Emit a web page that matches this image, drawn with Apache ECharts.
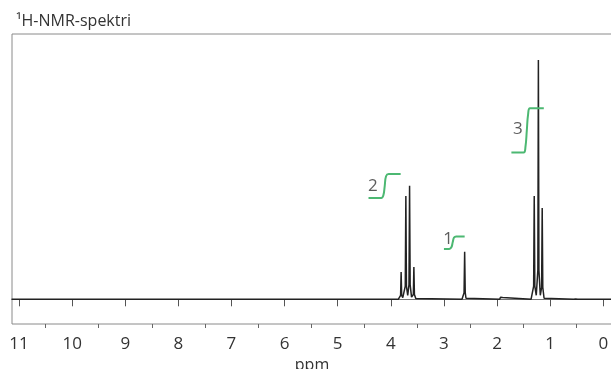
<!DOCTYPE html>
<html>
<head>
<meta charset="utf-8">
<script src="https://cdn.jsdelivr.net/npm/echarts@6/dist/echarts.min.js"></script>
<style>
  html, body { margin: 0; padding: 0; background: #fff; }
  #nmrSpectrum { width: 611px; height: 369px; }
</style>
</head>
<body>
<div id="nmrSpectrum"></div>
<script>
// tick values (ppm)
const majorTicks = [0, 1, 2, 3, 4, 5, 6, 7, 8, 9, 10, 11];
const minorTicks = [0.5, 1.5, 2.5, 3.5, 4.5, 5.5, 6.5, 7.5, 8.5, 9.5, 10.5];

// spectrum trace, [ppm, intensity]
const spectrum = [
  [11.14, 0], [3.86, 0], [3.83, 0.3], [3.816, 1.5], [3.806, 10.3], [3.796, 1.5],
  [3.775, 0.6], [3.728, 5], [3.717, 38.9], [3.706, 5], [3.682, 1.5], [3.658, 5.5],
  [3.647, 42.8], [3.636, 5.5], [3.61, 0.8], [3.576, 1.8], [3.566, 12.2], [3.556, 1.8],
  [3.53, 0.3], [3.5, 0],
  [2.66, 0], [2.635, 0.4], [2.621, 2.5], [2.61, 17.9], [2.599, 2.5], [2.585, 0.4], [2.56, 0],
  [1.95, 0], [1.935, 0.8], [1.92, 0.2], [1.895, 0.7], [1.88, 0],
  [1.36, 0], [1.33, 0.4], [1.311, 5], [1.3, 38.9], [1.289, 5], [1.262, 1.5],
  [1.232, 11], [1.222, 90.2], [1.212, 11], [1.186, 1.5], [1.161, 4.5], [1.15, 34.4],
  [1.139, 4.5], [1.115, 0.4], [1.09, 0],
  [0.56, 0], [0.535, 0.6], [0.52, 0.1], [0.5, 0.7], [0.48, 0],
  [-0.17, 0]
];

// integral steps (green)
const integral1 = [[3.0, 19.0], [2.9, 19.0], [2.86, 19.6], [2.835, 21.5], [2.81, 23.3], [2.77, 23.7], [2.61, 23.7]];
const integral2 = [[4.42, 38.2], [4.18, 38.2], [4.14, 39.2], [4.115, 42.7], [4.09, 46.4], [4.04, 47.2], [3.815, 47.2]];
const integral3 = [[1.73, 55.3], [1.5, 55.3], [1.465, 57.5], [1.44, 63.6], [1.415, 69.8], [1.38, 72.0], [1.12, 72.0]];
const integralLabels = [[2.92, 22.6, '1'], [4.34, 42.8, '2'], [1.61, 64.0, '3']];

const chart = echarts.init(document.getElementById('nmrSpectrum'));
const font = 'Open Sans';
const green = '#4cb872';

const option = {
  animation: false,
  title: {
    text: '¹H-NMR-spektri',
    left: 11,
    top: 8,
    textStyle: { fontFamily: font, fontSize: 16, fontWeight: 'normal', color: '#333' }
  },
  grid: {
    left: 12, right: -1, top: 34, bottom: 45,
    containLabel: false,
    outerBoundsMode: 'none',
    show: true, borderColor: '#8a8a8a', borderWidth: 1
  },
  xAxis: [
    {
      type: 'value',
      inverse: true,
      min: -0.164,
      max: 11.132,
      name: 'ppm',
      nameLocation: 'middle',
      nameGap: 26,
      nameTextStyle: { fontFamily: font, fontSize: 16, color: '#333' },
      axisLine: { lineStyle: { color: '#777', width: 1 } },
      axisTick: { customValues: majorTicks, length: 7, lineStyle: { color: '#555' } },
      axisLabel: {
        customValues: majorTicks, margin: 12,
        fontFamily: font, fontSize: 17, color: '#333'
      },
      splitLine: { show: false }
    },
    {
      type: 'value',
      inverse: true,
      min: -0.164,
      max: 11.132,
      position: 'bottom',
      axisLine: { show: false },
      axisTick: { customValues: minorTicks, length: 4, lineStyle: { color: '#666' } },
      axisLabel: { show: false },
      splitLine: { show: false }
    }
  ],
  yAxis: {
    type: 'value',
    min: -9.31,
    max: 100,
    show: false,
    splitLine: { show: false }
  },
  series: [
    {
      type: 'line',
      data: spectrum,
      showSymbol: false,
      lineStyle: { color: '#222', width: 1.5 }
    },
    {
      type: 'line', data: integral1, smooth: 0.4, showSymbol: false,
      lineStyle: { color: green, width: 2 }
    },
    {
      type: 'line', data: integral2, smooth: 0.4, showSymbol: false,
      lineStyle: { color: green, width: 2 }
    },
    {
      type: 'line', data: integral3, smooth: 0.4, showSymbol: false,
      lineStyle: { color: green, width: 2 }
    },
    {
      type: 'scatter',
      data: integralLabels,
      symbolSize: 1,
      itemStyle: { color: 'transparent' },
      label: {
        show: true, position: 'inside',
        formatter: (p) => p.data[2],
        fontFamily: font, fontSize: 17, color: '#333'
      }
    }
  ]
};

chart.setOption(option);
</script>
</body>
</html>
